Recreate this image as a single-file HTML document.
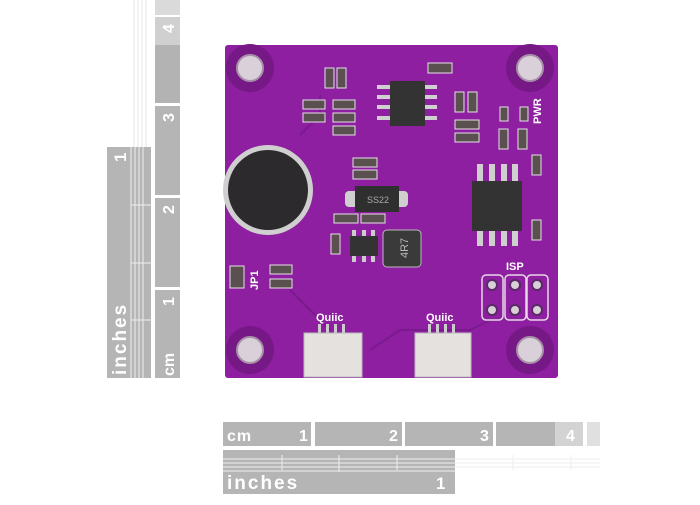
<!DOCTYPE html>
<html><head><style>
body{margin:0;width:700px;height:500px;background:#fff;overflow:hidden;font-family:"Liberation Sans",sans-serif}
</style></head><body>
<svg width="700" height="500" viewBox="0 0 700 500" xmlns="http://www.w3.org/2000/svg" font-family="Liberation Sans, sans-serif">
<g stroke="#e6e6e6" stroke-width="1">
<line x1="134" y1="0" x2="134" y2="147"/><line x1="138" y1="0" x2="138" y2="147"/><line x1="142" y1="0" x2="142" y2="147"/><line x1="146" y1="0" x2="146" y2="147"/>
</g>
<rect x="107" y="147" width="44" height="231" fill="#b5b5b5"/>
<g stroke="#eee" stroke-width="1">
<line x1="131" y1="147" x2="131" y2="378"/><line x1="135" y1="147" x2="135" y2="378"/><line x1="139" y1="147" x2="139" y2="378"/><line x1="143" y1="147" x2="143" y2="378"/>
<line x1="131" y1="263" x2="151" y2="263"/><line x1="131" y1="205" x2="151" y2="205"/><line x1="131" y1="320" x2="151" y2="320"/>
</g>
<text transform="translate(126,375) rotate(-90)" font-size="19" fill="#fff" font-weight="bold" letter-spacing="2">inches</text>
<text transform="translate(126,162) rotate(-90)" font-size="17" fill="#fff" font-weight="bold">1</text>
<rect x="155" y="0" width="25" height="15" fill="#dadada"/>
<rect x="155" y="17" width="25" height="28" fill="#d0d0d0"/>
<rect x="155" y="45" width="25" height="58" fill="#b3b3b3"/>
<rect x="155" y="106" width="25" height="89" fill="#b5b5b5"/>
<rect x="155" y="198" width="25" height="89" fill="#b5b5b5"/>
<rect x="155" y="290" width="25" height="88" fill="#b5b5b5"/>
<g fill="#fff" font-size="16" font-weight="bold">
<text transform="translate(174,33) rotate(-90)">4</text>
<text transform="translate(174,122) rotate(-90)">3</text>
<text transform="translate(174,214) rotate(-90)">2</text>
<text transform="translate(174,306) rotate(-90)">1</text>
<text transform="translate(174,376) rotate(-90)">cm</text>
</g>
<rect x="223" y="422" width="88" height="24" fill="#b5b5b5"/>
<rect x="315" y="422" width="87" height="24" fill="#b5b5b5"/>
<rect x="405" y="422" width="88" height="24" fill="#b5b5b5"/>
<rect x="496" y="422" width="59" height="24" fill="#b5b5b5"/>
<rect x="555" y="422" width="28" height="24" fill="#d3d3d3"/>
<rect x="587" y="422" width="13" height="24" fill="#e0e0e0"/>
<g fill="#fff" font-size="16" font-weight="bold">
<text x="227" y="441" letter-spacing="1">cm</text><text x="299" y="441">1</text><text x="389" y="441">2</text><text x="480" y="441">3</text><text x="566" y="441">4</text>
</g>
<rect x="223" y="450" width="232" height="44" fill="#b5b5b5"/>
<g stroke="#eee" stroke-width="1">
<line x1="223" y1="459" x2="600" y2="459"/><line x1="223" y1="463" x2="600" y2="463"/><line x1="223" y1="467" x2="600" y2="467"/><line x1="223" y1="471" x2="455" y2="471"/>
<line x1="282" y1="455" x2="282" y2="470"/><line x1="339" y1="455" x2="339" y2="472"/><line x1="397" y1="455" x2="397" y2="470"/><line x1="513" y1="455" x2="513" y2="470"/><line x1="571" y1="455" x2="571" y2="470"/>
</g>
<text x="227" y="489" font-size="19" fill="#fff" font-weight="bold" letter-spacing="2">inches</text>
<text x="436" y="489" font-size="17" fill="#fff" font-weight="bold">1</text>
<rect x="225" y="45" width="333" height="333" rx="3" fill="#8d1fa0"/>
<g fill="#761886">
<circle cx="250" cy="68" r="24"/><circle cx="530" cy="68" r="24"/><circle cx="250" cy="350" r="24"/><circle cx="530" cy="350" r="24"/>
</g>
<g fill="#d9d0d9" stroke="#a890a8" stroke-width="2">
<circle cx="250" cy="68" r="13"/><circle cx="530" cy="68" r="13"/><circle cx="250" cy="350" r="13"/><circle cx="530" cy="350" r="13"/>
</g>
<g fill="none" stroke="#7a1a8c" stroke-width="2">
<path d="M300 135 L320 115 L320 95"/>
<path d="M330 330 L290 290"/>
<path d="M370 350 L400 330 L470 330 L490 320"/>
</g>
<circle cx="268" cy="190" r="45" fill="#cfcfcf"/>
<circle cx="268" cy="190" r="40" fill="#2c2a2d"/>
<g fill="#cfcfcf"><rect x="377" y="85" width="15" height="4"/><rect x="377" y="95" width="15" height="4"/><rect x="377" y="105" width="15" height="4"/><rect x="377" y="116" width="15" height="4"/>
<rect x="422" y="85" width="15" height="4"/><rect x="422" y="95" width="15" height="4"/><rect x="422" y="105" width="15" height="4"/><rect x="422" y="116" width="15" height="4"/></g>
<rect x="390" y="81" width="35" height="45" fill="#333"/>
<g fill="#cfcfcf"><rect x="477" y="164" width="6" height="18"/><rect x="489" y="164" width="6" height="18"/><rect x="501" y="164" width="6" height="18"/><rect x="512" y="164" width="6" height="18"/>
<rect x="477" y="230" width="6" height="16"/><rect x="489" y="230" width="6" height="16"/><rect x="501" y="230" width="6" height="16"/><rect x="512" y="230" width="6" height="16"/></g>
<rect x="472" y="181" width="50" height="50" fill="#333"/>
<rect x="345" y="191" width="63" height="16" rx="4" fill="#cfcfcf"/>
<rect x="355" y="186" width="44" height="26" fill="#2f2f2f"/>
<text x="367" y="203" font-size="9" fill="#aaa">SS22</text>
<rect x="383" y="230" width="38" height="37" rx="4" fill="#3a3a3a" stroke="#bbb"/>
<text transform="translate(408,258) rotate(-90)" font-size="11" fill="#bbb">4R7</text>
<rect x="350" y="236" width="28" height="20" fill="#333"/>
<g fill="#ccc"><rect x="352" y="230" width="4" height="6"/><rect x="362" y="230" width="4" height="6"/><rect x="371" y="230" width="4" height="6"/><rect x="352" y="256" width="4" height="6"/><rect x="362" y="256" width="4" height="6"/><rect x="371" y="256" width="4" height="6"/></g>
<g fill="#5a5050" stroke="#e8e0e8" stroke-width="1">
<rect x="303" y="100" width="22" height="9"/><rect x="303" y="113" width="22" height="9"/>
<rect x="333" y="100" width="22" height="9"/><rect x="333" y="113" width="22" height="9"/><rect x="333" y="126" width="22" height="9"/>
<rect x="325" y="68" width="9" height="20"/><rect x="337" y="68" width="9" height="20"/>
<rect x="428" y="63" width="24" height="10"/>
<rect x="455" y="92" width="9" height="20"/><rect x="468" y="92" width="9" height="20"/>
<rect x="455" y="120" width="24" height="9"/><rect x="455" y="133" width="24" height="9"/>
<rect x="353" y="158" width="24" height="9"/><rect x="353" y="170" width="24" height="9"/>
<rect x="334" y="214" width="24" height="9"/><rect x="361" y="214" width="24" height="9"/>
<rect x="331" y="234" width="9" height="20"/>
<rect x="500" y="107" width="8" height="14"/><rect x="520" y="107" width="8" height="14"/>
<rect x="499" y="129" width="9" height="20"/><rect x="518" y="129" width="9" height="20"/>
<rect x="532" y="155" width="9" height="20"/><rect x="532" y="220" width="9" height="20"/>
<rect x="270" y="265" width="22" height="9"/><rect x="270" y="279" width="22" height="9"/>
<rect x="230" y="266" width="14" height="22"/>
</g>
<g fill="none" stroke="#e6d8e6" stroke-width="1.5"><rect x="482" y="275" width="21" height="45" rx="4"/><rect x="505" y="275" width="21" height="45" rx="4"/><rect x="527" y="275" width="21" height="45" rx="4"/></g>
<g fill="#d8cfd8" stroke="#5a2a66" stroke-width="2"><circle cx="492" cy="285" r="5"/><circle cx="515" cy="285" r="5"/><circle cx="537" cy="285" r="5"/><circle cx="492" cy="310" r="5"/><circle cx="515" cy="310" r="5"/><circle cx="537" cy="310" r="5"/></g>
<g fill="#fff" font-weight="bold">
<text x="506" y="270" font-size="11">ISP</text>
<text x="316" y="321" font-size="11">Quiic</text>
<text x="426" y="321" font-size="11">Quiic</text>
<text transform="translate(258,290) rotate(-90)" font-size="11">JP1</text>
<text transform="translate(541,124) rotate(-90)" font-size="11">PWR</text>
</g>
<g fill="#ccc"><rect x="318" y="324" width="3" height="10"/><rect x="326" y="324" width="3" height="10"/><rect x="334" y="324" width="3" height="10"/><rect x="342" y="324" width="3" height="10"/>
<rect x="428" y="324" width="3" height="10"/><rect x="436" y="324" width="3" height="10"/><rect x="444" y="324" width="3" height="10"/><rect x="452" y="324" width="3" height="10"/></g>
<rect x="304" y="333" width="58" height="44" fill="#e4e1df" stroke="#bbb"/>
<rect x="415" y="333" width="56" height="44" fill="#e4e1df" stroke="#bbb"/>
</svg>
</body></html>
